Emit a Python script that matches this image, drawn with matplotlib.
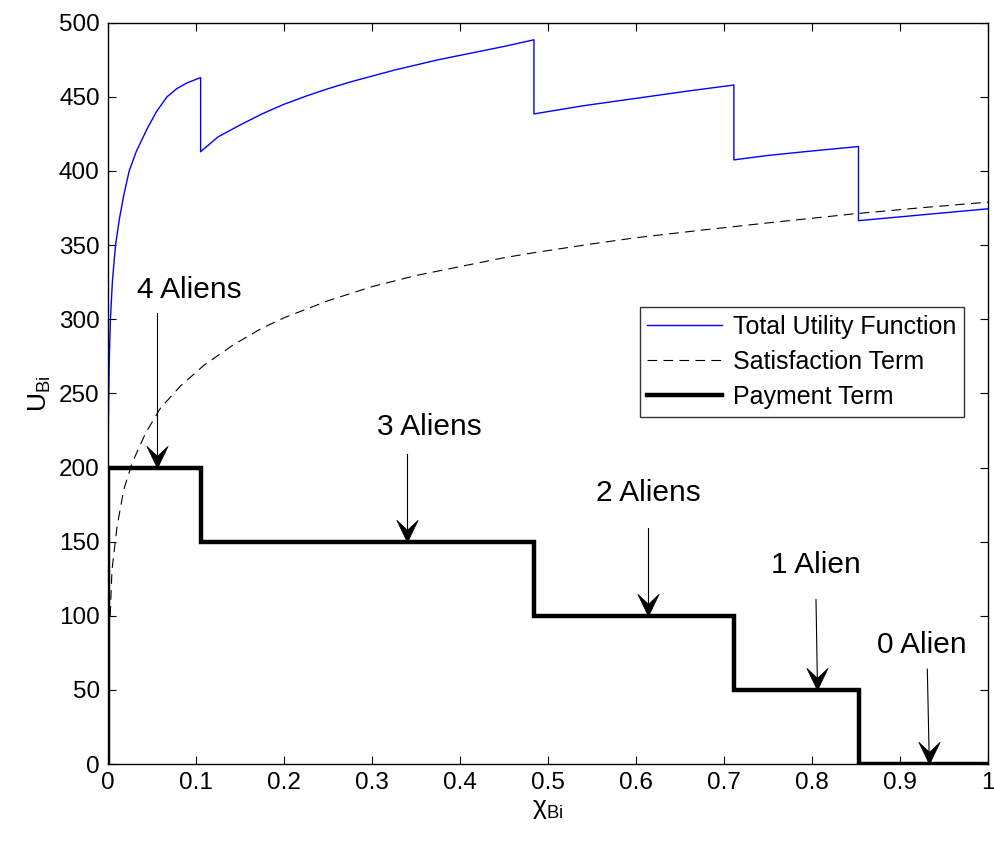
import numpy as np
import matplotlib
matplotlib.use("Agg")
import matplotlib.pyplot as plt
from matplotlib.path import Path

plt.rcParams['font.family'] = ['Liberation Sans', 'DejaVu Sans']
plt.rcParams['mathtext.fontset'] = 'custom'
plt.rcParams['mathtext.rm'] = 'Liberation Sans'
plt.rcParams['mathtext.it'] = 'Liberation Sans'
plt.rcParams['mathtext.default'] = 'regular'
plt.rcParams['lines.scale_dashes'] = False

# payment term: step edges and levels
pay_edges = [0, 0.1052, 0.484, 0.7112, 0.8528, 1.0]
pay_levels = [200, 150, 100, 50, 0]

tot_x1 = [0, 0.0003, 0.0008, 0.0015, 0.0027, 0.005, 0.0085, 0.013, 0.018, 0.024,
          0.032, 0.044, 0.055, 0.067, 0.078, 0.09, 0.1052]
tot_y1 = [200, 225, 250, 275, 300, 326, 350, 368, 384, 400,
          413, 428, 440, 450, 455.5, 459.5, 463]
tot_x2 = [0.1052, 0.125, 0.15, 0.175, 0.2, 0.225, 0.25, 0.275, 0.3, 0.325,
          0.35, 0.375, 0.4, 0.425, 0.45, 0.484]
tot_y2 = [413, 423, 431, 438.5, 445, 450.5, 455.5, 460, 464, 468,
          471.5, 475, 478, 481, 484, 488.5]
tot_x3 = [0.484, 0.54, 0.6, 0.66, 0.7112]
tot_y3 = [438.5, 444, 449, 454, 458]
tot_x4 = [0.7112, 0.75, 0.8, 0.8528]
tot_y4 = [407.5, 410.5, 413.5, 416.5]
tot_x5 = [0.8528, 0.93, 1.0]
tot_y5 = [366.5, 370.7, 374.5]

# satisfaction term
sat_x = [0.0025, 0.0034, 0.0045, 0.0102, 0.0178, 0.0273, 0.0425, 0.0595, 0.0823,
         0.109, 0.143, 0.175, 0.2, 0.25, 0.3, 0.35, 0.404, 0.45, 0.485, 0.552,
         0.6, 0.673, 0.75, 0.846, 0.92, 1.0]
sat_y = [100, 115, 131, 160, 185, 203, 223, 240, 255,
         269, 283, 294, 301, 312.5, 322, 329.5, 336, 341.5, 345, 351,
         355, 360, 365, 371, 375, 379]

# annotations: label, text pos, arrow tail, arrow tip
ann_text = ['4 Aliens', '3 Aliens', '2 Aliens', '1 Alien', '0 Alien']
ann_text_xy = [(0.092, 320), (0.365, 227), (0.6145, 183), (0.8045, 134), (0.925, 80)]
ann_tail = [(0.0556, 304), (0.340, 209), (0.614, 159), (0.8045, 111), (0.931, 64)]
ann_tip = [(0.0556, 200), (0.340, 150), (0.614, 100), (0.806, 50), (0.933, 0)]

tot_x = tot_x1 + tot_x2 + tot_x3 + tot_x4 + tot_x5
tot_y = tot_y1 + tot_y2 + tot_y3 + tot_y4 + tot_y5

pay_x = [0, 0] + list(np.repeat(pay_edges[1:-1], 2)) + [pay_edges[-1]]
pay_y = [0] + list(np.repeat(pay_levels, 2))

fig = plt.figure(figsize=(9.94, 8.42), dpi=100)
ax = fig.add_axes([0.1087, 0.0926, 0.8853, 0.8804])

ax.plot(tot_x, tot_y, color='blue', lw=1.0, label='Total Utility Function')
ax.plot(sat_x, sat_y, color='black', lw=0.8, dashes=(7, 4.5), label='Satisfaction Term')
ax.plot(pay_x, pay_y, color='black', lw=3.2, solid_joinstyle='miter', label='Payment Term')

# notched arrow head, tip at origin pointing down
head = Path([(0, 0), (-0.48, 1), (0, 0.55), (0.48, 1), (0, 0)],
            [Path.MOVETO, Path.LINETO, Path.LINETO, Path.LINETO, Path.CLOSEPOLY])
for txt, txy, tail, tip in zip(ann_text, ann_text_xy, ann_tail, ann_tip):
    ax.plot([tail[0], tip[0]], [tail[1], tip[1] + 8], color='black', lw=0.8)
    ax.plot([tip[0]], [tip[1]], marker=head, markersize=32, color='black',
            markeredgewidth=0.5, clip_on=False)
    ax.text(txy[0], txy[1], txt, fontsize=21.5, ha='center', va='center')

ax.set_xlim(0, 1)
ax.set_ylim(0, 500)
ax.set_xticks(np.arange(0, 1.01, 0.1))
ax.set_xticklabels(['0', '0.1', '0.2', '0.3', '0.4', '0.5', '0.6', '0.7', '0.8', '0.9', '1'])
ax.set_yticks(np.arange(0, 501, 50))
ax.tick_params(direction='in', top=True, right=True, length=6, width=0.8,
               labelsize=17.5, pad=6)
for s in ax.spines.values():
    s.set_linewidth(1.0)

ax.set_xlabel(r'$\chi_{Bi}$', fontsize=19, labelpad=2)
ax.set_ylabel(r'$U_{Bi}$', fontsize=19, labelpad=4)

leg = ax.legend(loc='upper right', bbox_to_anchor=(0.973, 0.6165), fontsize=18,
                frameon=True, fancybox=False, edgecolor='black', handlelength=3.0,
                borderpad=0.3, labelspacing=0.45, handletextpad=0.45, borderaxespad=0)
leg.get_frame().set_linewidth(1.0)

fig.savefig('out.png', dpi=100)
